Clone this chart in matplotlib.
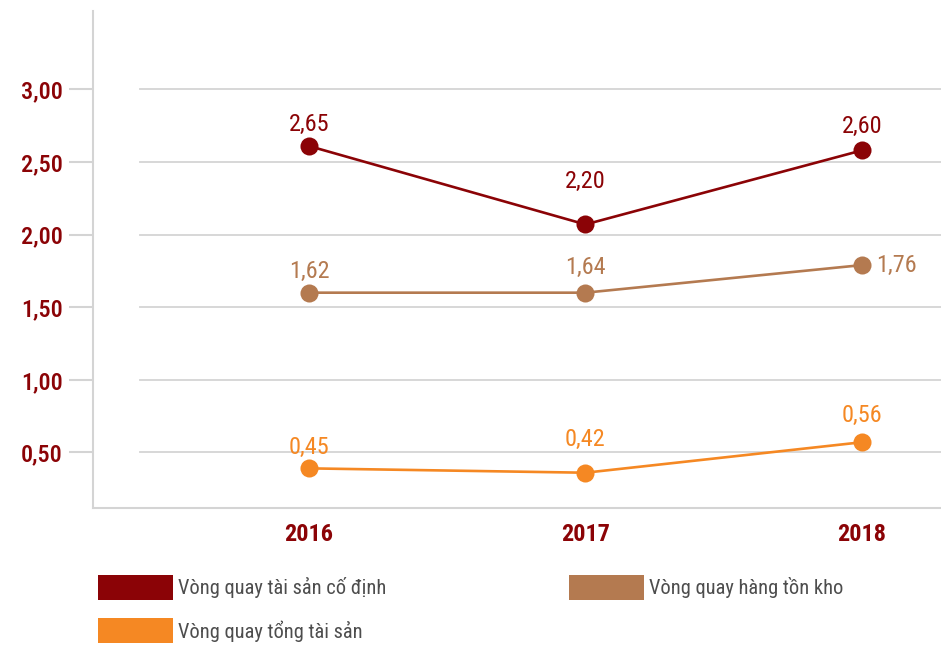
import matplotlib
matplotlib.use("Agg")
import matplotlib.pyplot as plt
from matplotlib import font_manager
from matplotlib.patches import Rectangle

# du lieu
years = [2016, 2017, 2018]
series_names = ["Vòng quay tài sản cố định", "Vòng quay hàng tồn kho", "Vòng quay tổng tài sản"]
fixed_assets = [2.61, 2.07, 2.58]
inventory = [1.60, 1.60, 1.79]
total_assets = [0.39, 0.36, 0.57]
fixed_labels = ["2,65", "2,20", "2,60"]
inventory_labels = ["1,62", "1,64", "1,76"]
total_labels = ["0,45", "0,42", "0,56"]
y_ticks = [0.5, 1.0, 1.5, 2.0, 2.5, 3.0]
y_tick_labels = ["0,50", "1,00", "1,50", "2,00", "2,50", "3,00"]

RED = "#8b0306"
BROWN = "#b47a50"
ORANGE = "#f58823"
GRID = "#d4d4d4"
TEXT = "#4d4d4d"

available = {f.name for f in font_manager.fontManager.ttflist}
for fam in ["Roboto Condensed", "Liberation Sans Narrow", "Roboto"]:
    if fam in available:
        plt.rcParams["font.family"] = [fam, "DejaVu Sans"]
        break

W, H = 941, 645
fig = plt.figure(figsize=(W / 100, H / 100), dpi=100)
# truc: trai x=93, phai 941, tren y=11, duoi y=508
ax = fig.add_axes([93 / W, 1 - 508 / H, (W - 93) / W, (508 - 11) / H])
ax.set_xlim(2015.219, 2018.286)
ax.set_ylim(0.117, 3.54)

for v in y_ticks:
    ax.axhline(v, xmin=(140 - 93) / (W - 93), xmax=1, color=GRID, lw=1.3, zorder=1)

for s in ["top", "right"]:
    ax.spines[s].set_visible(False)
for s in ["left", "bottom"]:
    ax.spines[s].set_color(GRID)
    ax.spines[s].set_linewidth(1.5)

ax.set_yticks(y_ticks)
ax.set_yticklabels(y_tick_labels)
ax.tick_params(axis="y", length=17, width=1.5, color=GRID, pad=5,
               labelsize=17.5, labelcolor=RED)
ax.set_xticks(years)
ax.set_xticklabels([str(y) for y in years], fontweight="bold")
ax.tick_params(axis="x", length=0, pad=11, labelsize=17.5, labelcolor=RED)
for t in ax.get_yticklabels():
    t.set_fontweight("medium")

series = [
    (fixed_assets, fixed_labels, RED, [(0, 22), (0, 43), (0, 24)]),
    (inventory, inventory_labels, BROWN, [(0, 21), (0, 25), (35, 0)]),
    (total_assets, total_labels, ORANGE, [(0, 21), (0, 33), (0, 27)]),
]
for vals, labs, col, offs in series:
    ax.plot(years, vals, color=col, lw=1.9, marker="o", markersize=13,
            markeredgewidth=0, zorder=3)
    for x, v, lab, (dx, dy) in zip(years, vals, labs, offs):
        ax.annotate(lab, (x, v), xytext=(dx * 0.72, dy * 0.72), textcoords="offset points",
                    ha="center", va="center", color=col, fontsize=17.5)

# chu thich
legend_items = [
    (series_names[0], RED, 98, 575),
    (series_names[1], BROWN, 569, 575),
    (series_names[2], ORANGE, 98, 618),
]
for name, col, px, py in legend_items:
    fig.add_artist(Rectangle((px / W, 1 - (py + 25) / H), 75 / W, 25 / H,
                             transform=fig.transFigure, color=col, lw=0))
    fig.text((px + 80) / W, 1 - (py + 13) / H, name, ha="left", va="center",
             color=TEXT, fontsize=14.7)

fig.savefig("out.png", dpi=100, facecolor="white")
